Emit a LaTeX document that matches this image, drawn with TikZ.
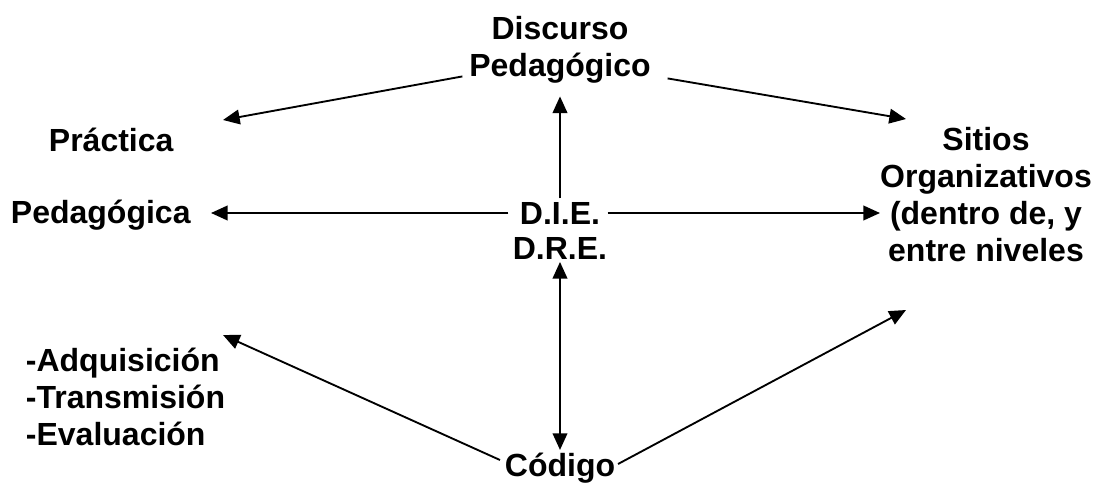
\documentclass[tikz,border=0pt]{standalone}
\usepackage{fontspec}
\setmainfont{Liberation Sans}
\usetikzlibrary{arrows.meta}
\tikzset{
  lbl/.style={font=\bfseries\fontsize{24}{27.75}\selectfont, inner sep=0pt},
}
\begin{document}
\begin{tikzpicture}[x=0.75pt,y=-0.75pt, line width=1.4pt,
    >={Triangle[length=12.5pt,width=11pt]}]
  \useasboundingbox (0,0) rectangle (1093,485);
  % texts
  \node[lbl, align=center] (disc) at (560,50) {Discurso\\Pedagógico};
  \node[lbl, anchor=west] (prac) at (48,140) {Práctica};
  \node[lbl, anchor=west] (pedag) at (10,215) {Pedagógica};
  \node[lbl] (die) at (560,213) {D.I.E.};
  \node[lbl] (dre) at (560,248) {D.R.E.};
  \node[lbl, align=center] (sitios) at (986,195)
    {Sitios\\Organizativos\\(dentro de, y\\entre niveles};
  \node[lbl, align=left, anchor=west] (lista) at (25,397)
    {-Adquisición\\-Transmisión\\-Evaluación};
  \node[lbl] (cod) at (560,468) {Código};
  % free arrow ends
  \coordinate (tl) at (223,120);
  \coordinate (tr) at (906,119);
  \coordinate (ml) at (211,213);
  \coordinate (mr) at (880,213);
  \coordinate (bl) at (223,335);
  \coordinate (br) at (906,310);
  % arrows
  \draw [->] ([shift={(-6,-8)}]disc.south west) -- (tl);
  \draw [->] ([shift={(16,-6)}]disc.south east) -- (tr);
  \draw [->, shorten <=2pt, shorten >=9pt] (die.north) -- (disc.south);
  \draw [->] ([xshift=-8pt]die.west) -- (ml);
  \draw [->] ([xshift=5pt]die.east) -- (mr);
  \draw [<->, shorten <=1.5pt, shorten >=1.5pt] (dre.south) -- (cod.north);
  \draw [->] ([shift={(-4,-8)}]cod.west) -- (bl);
  \draw [->] ([shift={(2,-4)}]cod.east) -- (br);
\end{tikzpicture}
\end{document}
